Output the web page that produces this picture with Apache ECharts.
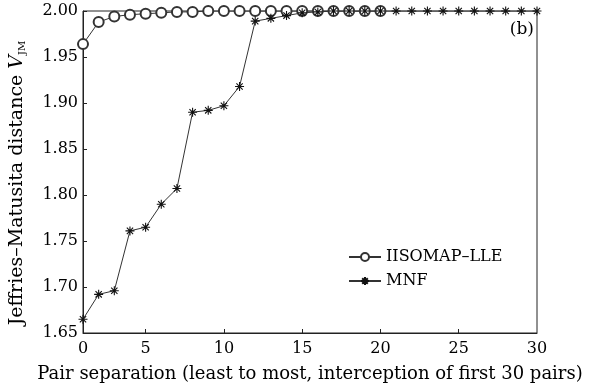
<!DOCTYPE html>
<html><head><meta charset="utf-8">
<script src="https://cdn.jsdelivr.net/npm/echarts@6/dist/echarts.min.js"></script>
<style>html,body{margin:0;padding:0;background:#fff}#c{width:599px;height:391px}</style>
</head><body><div id="c"></div>
<script>
var xValues = ['1','2','3','4','5','6','7','8','9','10','11','12','13','14','15','16','17','18','19','20','21','22','23','24','25','26','27','28','29','30'];
var xTickLabels = {'1':'0','5':'5','10':'10','15':'15','20':'20','25':'25','30':'30'};
var isomapLLE = [1.964, 1.988, 1.994, 1.996, 1.997, 1.998, 1.999, 1.999, 2.000, 2.000, 2.000, 2.000, 2.000, 2.000, 2.000, 2.000, 2.000, 2.000, 2.000, 2.000];
var mnf = [1.665, 1.692, 1.696, 1.761, 1.765, 1.790, 1.807, 1.890, 1.892, 1.897, 1.918, 1.989, 1.992, 1.995, 1.998, 1.999, 2.000, 2.000, 2.000, 2.000, 2.000, 2.000, 2.000, 2.000, 2.000, 2.000, 2.000, 2.000, 2.000, 2.000];
var yMin = 1.65, yMax = 2.00, yStep = 0.05;

var FONT = 'DejaVu Serif';
var starPath = 'path://M5,0L5,10M0,5L10,5M1.5,1.5L8.5,8.5M1.5,8.5L8.5,1.5';
var chart = echarts.init(document.getElementById('c'));
chart.setOption({
  backgroundColor: '#fff',
  animation: false,
  textStyle: {fontFamily: FONT, color: '#000'},
  grid: {left: 83, right: 62, top: 11, bottom: 58, show: true, borderColor: '#222', borderWidth: 1},
  legend: {
    orient: 'vertical', left: 343, top: 244, itemWidth: 32, itemHeight: 10, itemGap: 8,
    textStyle: {fontFamily: FONT, fontSize: 16, color: '#000'},
    data: ['IISOMAP\u2013LLE', 'MNF']
  },
  graphic: [{type: 'text', right: 65, top: 21, style: {text: '(b)', font: '17px "DejaVu Serif"', fill: '#000'}}],
  xAxis: {
    type: 'category', data: xValues, boundaryGap: false,
    name: 'Pair separation (least to most, interception of first 30 pairs)',
    nameLocation: 'middle', nameGap: 32,
    nameTextStyle: {fontFamily: FONT, fontSize: 18, color: '#000'},
    axisLine: {lineStyle: {color: '#222', width: 1}},
    axisTick: {inside: true, length: 4, lineStyle: {color: '#222'},
      interval: function (i) { return i % 5 === 4 && i < 29; }},
    axisLabel: {fontFamily: FONT, fontSize: 16, color: '#000', margin: 8,
      interval: function (i, v) { return xTickLabels[v] !== undefined; },
      formatter: function (v) { return xTickLabels[v] || ''; }}
  },
  yAxis: {
    type: 'value', min: yMin, max: yMax, interval: yStep,
    name: '{a|Jeffries\u2013Matusita distance }{v|V}{s|JM}',
    nameLocation: 'middle', nameGap: 56,
    nameTextStyle: {
      fontFamily: FONT, fontSize: 19, color: '#000', padding: [0, 22, 0, 0],
      rich: {
        a: {fontFamily: FONT, fontSize: 19, color: '#000'},
        v: {fontFamily: FONT, fontSize: 19, fontStyle: 'italic', color: '#000'},
        s: {fontFamily: FONT, fontSize: 10, color: '#000', verticalAlign: 'bottom', padding: [7, 0, 0, 0]}
      }
    },
    axisLine: {show: true, lineStyle: {color: '#222', width: 1}},
    axisTick: {show: true, inside: true, length: 4, lineStyle: {color: '#222'}},
    splitLine: {show: false},
    axisLabel: {fontFamily: FONT, fontSize: 16, color: '#000', margin: 5,
      formatter: function (v) { return v.toFixed(2); }}
  },
  series: [
    {name: 'IISOMAP\u2013LLE', type: 'line', data: isomapLLE, symbol: 'emptyCircle', symbolSize: 10,
     showAllSymbol: true,
     lineStyle: {color: '#333', width: 1}, itemStyle: {color: '#333', borderWidth: 0.9}},
    {name: 'MNF', type: 'line', data: mnf, symbol: starPath, symbolSize: 9, showAllSymbol: true,
     lineStyle: {color: '#333', width: 1}, itemStyle: {color: '#111', borderColor: '#111', borderWidth: 1.1}}
  ]
});
</script></body></html>
